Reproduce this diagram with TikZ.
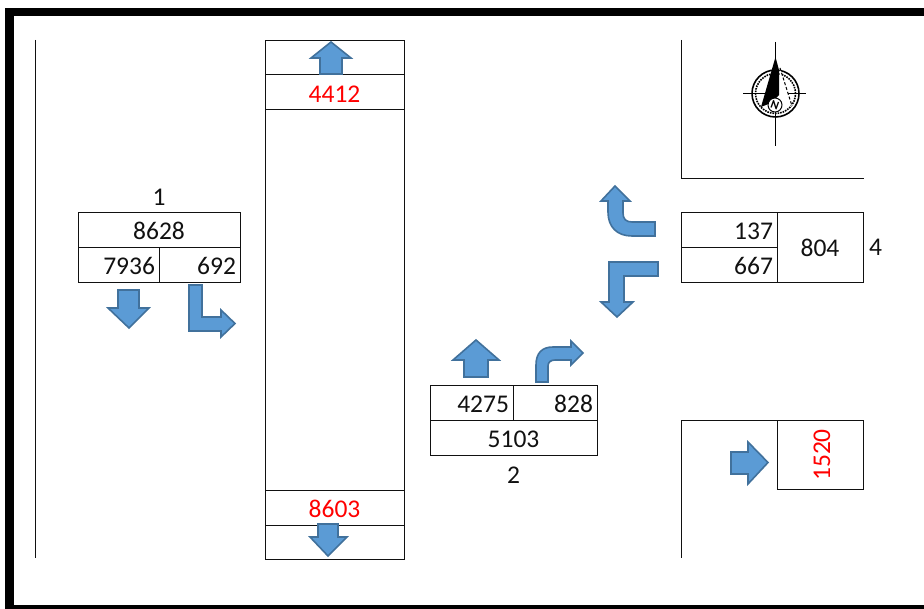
\documentclass[tikz,border=0pt]{standalone}
\usepackage{fontspec}
\setmainfont{Carlito}
\usepackage{xcolor}
\usetikzlibrary{positioning}
\definecolor{flow}{HTML}{5B9BD5}
\definecolor{flowline}{HTML}{41719C}
\definecolor{ink}{HTML}{111111}
\begin{document}
\begin{tikzpicture}[x=1pt,y=-1pt,font=\fontsize{25.5}{27}\selectfont,text=ink,
  cell/.style={draw=ink,line width=1pt,outer sep=0pt,inner sep=0pt,align=center},
  num/.style={cell,text height=20pt,text depth=0pt},
  rcell/.style={num,align=right,inner xsep=4pt},
  lbl/.style={inner sep=0pt,outer sep=0pt},
  wall/.style={draw=ink,line width=1pt},
  flowarrow/.style={fill=flow,draw=flowline,line width=1.6pt,line join=miter},
  hot/.style={text=red}]
\useasboundingbox (0,0) rectangle (924,609);
% outer frame, no right side
\fill[black] (5,8) rectangle (924,16);
\fill[black] (5,8) rectangle (14,609);
\fill[black] (5,605) rectangle (924,609);
% walls
\draw[wall] (35,40) -- (35,558);
\draw[wall] (681,40) -- (681,178.5) -- (863.5,178.5);
\draw[wall] (863.5,420.5) -- (681,420.5) -- (681,558);
% middle column, top to bottom
\node[cell,minimum width=139pt,minimum height=34.5pt,anchor=north west](colTop) at (265,40.5){};
\node[num,hot,minimum width=139pt,minimum height=35pt,below=0pt of colTop](colIn){4412};
\node[cell,minimum width=139pt,minimum height=380pt,below=0pt of colIn](colMid){};
\node[num,hot,minimum width=139pt,minimum height=35pt,below=0pt of colMid](colOut){8603};
\node[cell,minimum width=139pt,minimum height=34pt,below=0pt of colOut](colBot){};
% box 1
\node[num,minimum width=162pt,minimum height=35pt,anchor=north west](oneTop) at (78,212.5){8628};
\node[rcell,text width=73pt,minimum height=35pt,below right=0pt and 0pt of oneTop.south west](oneLeft){7936};
\node[rcell,text width=73pt,minimum height=35pt,right=0pt of oneLeft](oneRight){692};
\node[lbl,above=7pt of oneTop](oneName){1};
% box 2
\node[rcell,text width=75pt,minimum height=35pt,anchor=north west](twoLeft) at (430,385.5){4275};
\node[rcell,text width=76pt,minimum height=35pt,right=0pt of twoLeft](twoRight){828};
\node[num,minimum width=167pt,minimum height=35pt,below right=0pt and 0pt of twoLeft.south west](twoBot){5103};
\node[lbl,below=11pt of twoBot](twoName){2};
% box 4
\node[rcell,text width=88pt,minimum height=35pt,anchor=north west](fourTop) at (681,212.5){137};
\node[rcell,text width=88pt,minimum height=35pt,below=0pt of fourTop](fourBot){667};
\node[cell,minimum width=86pt,minimum height=70pt,anchor=north west](fourSum) at (fourTop.north east){804};
\node[lbl,right=6pt of fourSum](fourName){4};
% box 3
\node[num,hot,minimum width=69pt,minimum height=86pt,rotate=90](threeBox) at (820,455){1520};
% flow arrows
\draw[flowarrow] (320,74) -- (320,58) -- (311,58) -- (331,42) -- (351,58) -- (342,58) -- (342,74) -- cycle;
\draw[flowarrow] (318,524) -- (318,537) -- (310,537) -- (328,556) -- (347,537) -- (338,537) -- (338,524) -- cycle;
\draw[flowarrow] (118,290) -- (118,308) -- (108,308) -- (129,328) -- (149,308) -- (139,308) -- (139,290) -- cycle;
\draw[flowarrow] (189,285) -- (189,331) -- (221,331) -- (221,337) -- (235,323.5) -- (221,310) -- (221,317) -- (202,317) -- (202,285) -- cycle;
\draw[flowarrow] (464,377) -- (464,360) -- (453,360) -- (476,340) -- (499,360) -- (488,360) -- (488,377) -- cycle;
\draw[flowarrow] (536,382) -- (536,365) .. controls (536,353) and (542,347) .. (553,347) -- (571,347) -- (571,341) -- (583,353) -- (571,365) -- (571,360) -- (555,360) .. controls (551,360) and (548,362) .. (548,366) -- (548,382) -- cycle;
\draw[flowarrow] (655,222) -- (632,222) .. controls (626,222) and (623,219) .. (623,213) -- (623,201) -- (630,201) -- (615,186) -- (601,201) -- (608,201) -- (608,212) .. controls (608,227) and (617,236) .. (632,236) -- (655,236) -- cycle;
\draw[flowarrow] (658,262) -- (609,262) -- (609,302) -- (601,302) -- (617,317) -- (633,302) -- (624,302) -- (624,276) -- (658,276) -- cycle;
\draw[flowarrow] (731,452) -- (748,452) -- (748,442) -- (768,462.5) -- (748,484) -- (748,474) -- (731,474) -- cycle;
% north sign
\draw[black,line width=1.2pt] (775.5,42) -- (775.5,146);
\draw[black,line width=1.2pt] (743,93.5) -- (806,93.5);
\draw[black,line width=1.6pt] (775.5,93.5) circle[radius=23.5pt];
\draw[black,line width=1.6pt,densely dotted] (775.5,93.5) circle[radius=20pt];
\fill[white] (780,68) -- (792,106) -- (778,96) -- cycle;
\draw[black,line width=1pt,densely dashed] (780,68) -- (792,106);
\fill[black] (775.5,57) -- (761,107) -- (771,103) -- (779,95) -- (779,70) -- cycle;
\node[draw=black,fill=white,line width=1pt,circle,inner sep=0pt,minimum size=14pt,text=black,font=\fontsize{12}{12}\selectfont\bfseries,rotate=-20](northMark) at (775,105){N};
\end{tikzpicture}
\end{document}
